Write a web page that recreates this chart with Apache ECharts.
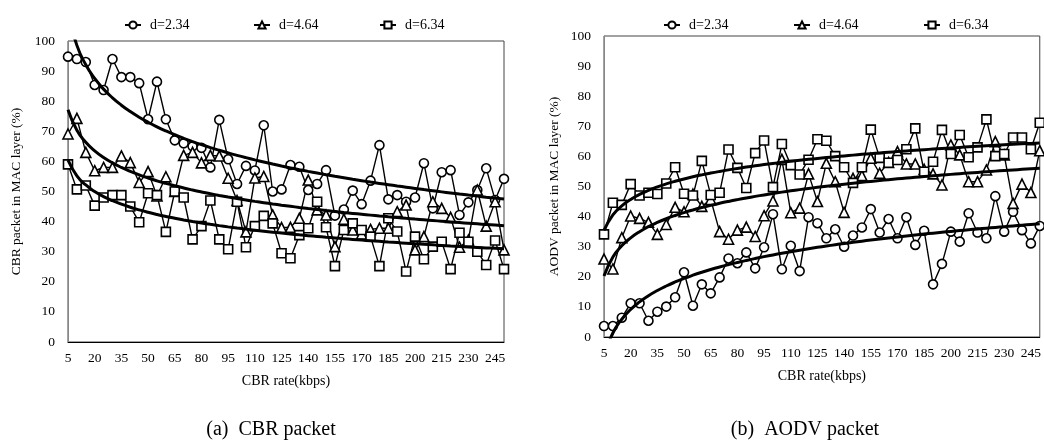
<!DOCTYPE html>
<html><head><meta charset="utf-8">
<script src="https://cdn.jsdelivr.net/npm/echarts@6/dist/echarts.min.js"></script>
<style>html,body{margin:0;padding:0;background:#fff}#c{width:1044px;height:440px}</style>
</head><body><div id="c"></div>
<script>
const categories = [5,10,15,20,25,30,35,40,45,50,55,60,65,70,75,80,85,90,95,100,105,110,115,120,125,130,135,140,145,150,155,160,165,170,175,180,185,190,195,200,205,210,215,220,225,230,235,240,245,250];
const seriesNames = ['d=2.34','d=4.64','d=6.34'];
const panelCaptions = ['(a)  CBR packet','(b)  AODV packet'];
const yNames = ['CBR packet in MAC layer (%)','AODV packet in MAC layer (%)'];
const xName = 'CBR rate(kbps)';

// (a) CBR packet
const cbrD234 = [94.8,94,93,85.4,83.7,94,88,88,86,74,86.5,74,67,66,65,64.5,58,73.8,60.7,52.5,58.5,57,72,50,50.7,58.8,58.2,50.5,52.5,57.1,42,44,50.3,45.8,53.6,65.4,47.4,48.8,46.6,48,59.4,44.4,56.4,57.1,42.2,46.4,50.5,57.7,47.2,54.2];
const cbrD464 = [69.1,74.3,63,56.9,58,58,61.8,59.6,53,56.6,48.5,54.9,50,62,63,59.5,62,61.8,54.4,47,36.6,54.5,55,42.2,38,38.1,41.1,53.8,43.9,42.2,31.7,40.8,37.2,35.9,37.4,37.8,37.8,43.3,45.5,30.6,35,46.6,44.4,41.4,31.5,33.9,50.5,38.5,46.6,30.6];
const cbrD634 = [59,50.7,52,45.3,48,48.8,48.8,45,39.8,49.4,48.8,36.6,50,48,34.1,38.5,47,34.1,30.8,46.6,31.5,38.5,41.9,39.4,29.5,27.8,35.5,37.8,46.6,38.1,25.2,37.2,39.4,37.2,35,25.2,41.1,36.7,23.4,35,27.5,31.7,33.3,24.2,36.3,33.3,30,25.6,33.7,24.2];

// (b) AODV packet
const aodvD234 = [3.65,3.65,6.4,11.2,11.2,5.4,8.4,10.1,13.2,21.5,10.4,17.5,14.5,19.8,26.1,24.5,28.1,22.8,29.8,40.8,22.5,30.3,21.9,39.8,37.8,32.8,35.8,30,33.7,36.4,42.5,34.7,39.2,32.8,39.8,30.6,35.3,17.5,24.3,35,31.7,41.1,34.7,32.8,46.8,35,41.6,35.5,31.1,36.9];
const aodvD464 = [25.9,22.6,33,40.2,39.4,38.1,34.1,37.4,43.1,41.6,47.5,43.4,45.7,35,32.5,35.5,36.5,33.4,40.3,45.2,59,41.3,42.8,54.2,45,57.7,51.6,41.4,52.7,53.6,59.4,54.4,58,61.6,57.5,57.5,55.7,54.2,50.5,63.8,60.5,51.6,51.6,55.5,64.9,60.5,44.4,50.8,48,61.9];
const aodvD634 = [34.1,44.6,43.9,50.8,47,47.9,47.5,51,56.4,47.6,47,58.5,47.2,47.9,62.3,56.2,49.5,61.1,65.3,49.8,64.1,57.1,54,58.9,65.7,65.2,60.1,56.4,51.2,56.4,68.9,59.5,57.9,58.8,62.4,69.3,54.9,58.2,68.8,60.8,67.1,59.7,63,72.3,60.1,60.8,66.3,66.3,62.4,71.2];

// logarithmic least-squares trendline (as in the source chart)
function logTrend(vals){
  const n = vals.length; let sx=0, sy=0, sxx=0, sxy=0;
  vals.forEach((v,i)=>{ const x=Math.log(i+1); sx+=x; sy+=v; sxx+=x*x; sxy+=x*v; });
  const a=(n*sxy-sx*sy)/(n*sxx-sx*sx), b=(sy-a*sx)/n;
  return vals.map((v,i)=>+(a*Math.log(i+1)+b).toFixed(3));
}

const FONT = "'Liberation Serif','Times New Roman',serif";
const symbols = ['circle','triangle','rect'];
const symSizes = [9,10,9];

function dataSeries(name, data, k, idx){
  return {
    name, type:'line', data, xAxisIndex:idx, yAxisIndex:idx,
    symbol:symbols[k], symbolSize:symSizes[k], showSymbol:true, showAllSymbol:true,
    lineStyle:{color:'#000', width:1.4},
    itemStyle:{color:'#fff', borderColor:'#000', borderWidth:1.6},
    emphasis:{disabled:true}, animation:false, z:2
  };
}
function trendSeries(data, idx){
  return {
    name:'trend', type:'line', data:logTrend(data), xAxisIndex:idx, yAxisIndex:idx,
    symbol:'none', smooth:true, clip:true,
    lineStyle:{color:'#000', width:3}, emphasis:{disabled:true}, animation:false, z:3, silent:true
  };
}

const grids = [
  {left:68, top:41, width:436, height:301},
  {left:604, top:36, width:437, height:301}
];
function xAx(idx){
  return {
    type:'category', gridIndex:idx, data:categories, boundaryGap:false,
    axisLine:{show:true, lineStyle:{color:'#000', width:1}},
    axisTick:{show:false},
    axisLabel:{interval:2, color:'#000', fontFamily:FONT, fontSize:13.5, margin:9},
    splitLine:{show:false},
    name:xName, nameLocation:'middle', nameGap:32,
    nameTextStyle:{color:'#000', fontFamily:FONT, fontSize:14}
  };
}
function yAx(idx){
  return {
    type:'value', gridIndex:idx, min:0, max:100, interval:10,
    axisLine:{show:true, lineStyle:{color:'#888', width:1}},
    axisTick:{show:false}, splitLine:{show:false},
    axisLabel:{color:'#000', fontFamily:FONT, fontSize:13.5, margin:13},
    name:yNames[idx], nameLocation:'middle', nameGap: idx===0 ? 45 : 43, nameRotate:90,
    nameTextStyle:{color:'#000', fontFamily:FONT, fontSize:13.5}
  };
}
const legendLefts = [[119,248,374],[658,788,918]];
const legends = [];
legendLefts.forEach(row => row.forEach((l,k)=>{
  legends.push({
    data:[seriesNames[k]], left:l, top:13, itemWidth:16, itemHeight:9, selectedMode:false,
    textStyle:{color:'#000', fontFamily:FONT, fontSize:14, padding:[0,0,0,4]}
  });
}));

const cbrAll = [cbrD234, cbrD464, cbrD634];
const aodvAll = [aodvD234, aodvD464, aodvD634];
const series = [];
cbrAll.forEach((d,k)=>series.push(dataSeries(seriesNames[k], d, k, 0)));
aodvAll.forEach((d,k)=>series.push(dataSeries(seriesNames[k], d, k, 1)));
cbrAll.forEach(d=>series.push(trendSeries(d,0)));
aodvAll.forEach(d=>series.push(trendSeries(d,1)));

const chart = echarts.init(document.getElementById('c'), null, {renderer:'canvas'});
chart.setOption({
  backgroundColor:'#fff',
  animation:false,
  textStyle:{fontFamily:FONT},
  title: panelCaptions.map((t,i)=>({
    text:t, left: i===0 ? 266 : 800, top:415, textAlign:'center',
    textStyle:{color:'#000', fontFamily:FONT, fontSize:20, fontWeight:'normal'}
  })),
  grid: grids.map(g=>Object.assign({show:true, borderColor:'#444', borderWidth:1, backgroundColor:'transparent'}, g)),
  xAxis:[xAx(0), xAx(1)],
  yAxis:[yAx(0), yAx(1)],
  legend: legends,
  series
});
</script></body></html>
